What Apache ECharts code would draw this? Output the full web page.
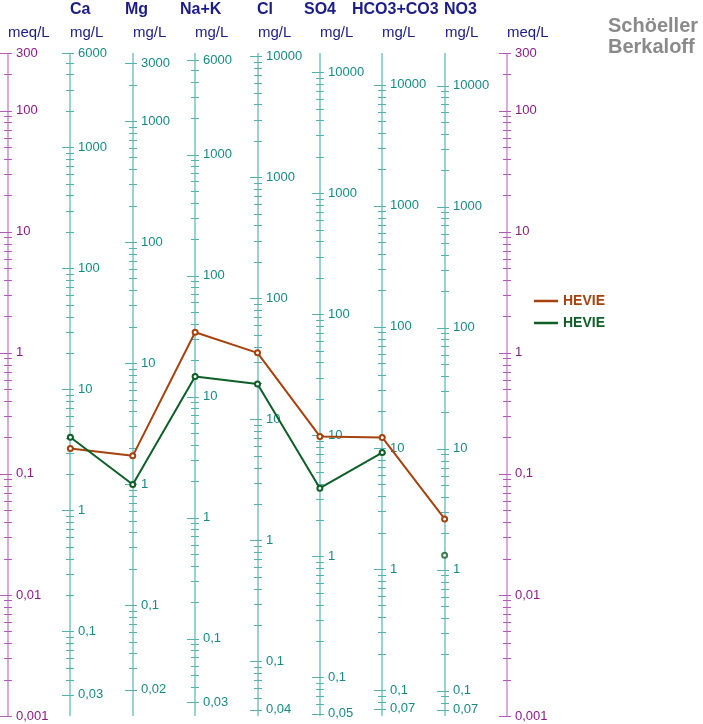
<!DOCTYPE html>
<html>
<head>
<meta charset="utf-8">
<script src="https://cdn.jsdelivr.net/npm/echarts@6/dist/echarts.min.js"></script>
<style>
  html, body { margin: 0; padding: 0; background: #fff; }
  #chart { width: 703px; height: 724px; }
</style>
</head>
<body>
<div id="chart"></div>
<script>
// ions and their equivalent weights (mg per meq)
const ions = ['Ca', 'Mg', 'Na+K', 'Cl', 'SO4', 'HCO3+CO3', 'NO3'];
const eqWeights = [20.04, 12.15, 23.0, 35.45, 48.03, 61.02, 62.0];

// meq/L values
const hevie1 = [0.162, 0.141, 1.48, 1.0, 0.204, 0.2, 0.0425];
const hevie2 = [0.201, 0.0817, 0.638, 0.554, 0.0762, 0.150];
const hevie2No3 = 0.0213;

// labelled ticks
const meqLabels = [300, 100, 10, 1, 0.1, 0.01, 0.001];
const mgLabels = [
  [6000, 1000, 100, 10, 1, 0.1, 0.03],
  [3000, 1000, 100, 10, 1, 0.1, 0.02],
  [6000, 1000, 100, 10, 1, 0.1, 0.03],
  [10000, 1000, 100, 10, 1, 0.1, 0.04],
  [10000, 1000, 100, 10, 1, 0.1, 0.05],
  [10000, 1000, 100, 10, 1, 0.1, 0.07],
  [10000, 1000, 100, 10, 1, 0.1, 0.07]
];

const meqMin = 0.001, meqMax = 300;

// layout only
const titleLeft = [70, 125, 180, 257, 304, 352, 444];
const FONT = 'Liberation Sans, Arial, sans-serif';
const colOrange = '#a5420d';
const colGreen = '#0d5e27';

const fmt = v => String(v).replace('.', ',');

function tickValues(lo, hi) {
  const out = [];
  for (let n = -4; n <= 5; n++) {
    for (let k = 1; k <= 9; k++) {
      const v = Number((k * Math.pow(10, n)).toPrecision(6));
      if (v >= lo * 0.9999 && v <= hi * 1.0001) out.push(v);
    }
  }
  return out;
}

function renderAxis(params, api) {
  const i = api.value(0);
  const isMeq = (i === 0 || i === 8);
  const x = Math.round(api.coord([i, 1])[0]);
  const yTop = api.coord([i, meqMax])[1];
  const yBot = api.coord([i, meqMin])[1];
  const w = isMeq ? 1 : eqWeights[i - 1];
  const labels = isMeq ? meqLabels : mgLabels[i - 1];
  const lineCol = isMeq ? '#dcaade' : '#98d3cf';
  const tickCol = isMeq ? '#b25ab8' : '#55b1ab';
  const textCol = isMeq ? '#8b1a89' : '#178a86';
  const children = [];

  children.push({
    type: 'line',
    shape: { x1: x, y1: yTop, x2: x, y2: yBot },
    style: { stroke: lineCol, lineWidth: 2 }
  });

  tickValues(meqMin * w, meqMax * w).forEach(v => {
    const y = Math.round(api.coord([i, v / w])[1]) + 0.5;
    const major = labels.indexOf(v) >= 0;
    children.push({
      type: 'line',
      shape: { x1: x - (major ? 8 : 4), y1: y, x2: x + 4, y2: y },
      style: { stroke: tickCol, lineWidth: 1 }
    });
  });

  labels.forEach(v => {
    const y = api.coord([i, v / w])[1];
    children.push({
      type: 'text',
      x: x + 8,
      y: y,
      style: {
        text: fmt(v), fill: textCol, font: '13px ' + FONT,
        align: 'left', verticalAlign: 'middle'
      }
    });
  });

  children.push({
    type: 'text',
    x: x,
    y: 33,
    style: {
      text: isMeq ? 'meq/L' : 'mg/L', fill: '#1c1c86', font: '15px ' + FONT,
      align: 'left', verticalAlign: 'middle'
    }
  });

  if (!isMeq) {
    children.push({
      type: 'text',
      x: titleLeft[i - 1],
      y: 10,
      style: {
        text: ions[i - 1], fill: '#1c1c86', font: 'bold 16px ' + FONT,
        align: 'left', verticalAlign: 'middle'
      }
    });
  }

  return { type: 'group', children: children };
}

const chart = echarts.init(document.getElementById('chart'));
chart.setOption({
  animation: false,
  title: {
    text: 'Schöeller\nBerkaloff',
    left: 608,
    top: 16,
    padding: 0,
    textStyle: { fontFamily: FONT, fontSize: 20, fontWeight: 'bold', color: '#8a8a8a', lineHeight: 21 }
  },
  grid: { left: 8, right: 196, top: 53, bottom: 8 },
  xAxis: { type: 'value', min: 0, max: 8, show: false },
  yAxis: { type: 'log', logBase: 10, min: meqMin, max: meqMax, show: false },
  legend: {
    orient: 'vertical',
    left: 529,
    top: 289,
    icon: 'rect',
    itemWidth: 24,
    itemHeight: 2.5,
    itemGap: 8,
    formatter: name => name.trim(),
    textStyle: { fontFamily: FONT, fontSize: 14, fontWeight: 'bold' },
    data: [
      { name: 'HEVIE', textStyle: { color: colOrange } },
      { name: 'HEVIE ', textStyle: { color: colGreen } }
    ]
  },
  series: [
    {
      type: 'custom',
      z: 1,
      clip: false,
      silent: true,
      renderItem: renderAxis,
      encode: { x: 0, y: 1 },
      data: [0, 1, 2, 3, 4, 5, 6, 7, 8].map(i => [i, 1])
    },
    {
      name: 'HEVIE',
      type: 'line',
      z: 3,
      data: hevie1.map((v, k) => [k + 1, v]),
      symbol: 'emptyCircle',
      symbolSize: 5,
      lineStyle: { color: colOrange, width: 2 },
      itemStyle: { color: colOrange, borderWidth: 2.5 }
    },
    {
      name: 'HEVIE ',
      type: 'line',
      z: 3,
      data: hevie2.map((v, k) => [k + 1, v]),
      symbol: 'emptyCircle',
      symbolSize: 5,
      lineStyle: { color: colGreen, width: 2 },
      itemStyle: { color: colGreen, borderWidth: 2.5 }
    },
    {
      name: 'HEVIE ',
      type: 'scatter',
      z: 3,
      data: [[7, hevie2No3]],
      symbol: 'emptyCircle',
      symbolSize: 5,
      itemStyle: { color: colGreen, borderWidth: 1.5 }
    }
  ]
});
</script>
</body>
</html>
